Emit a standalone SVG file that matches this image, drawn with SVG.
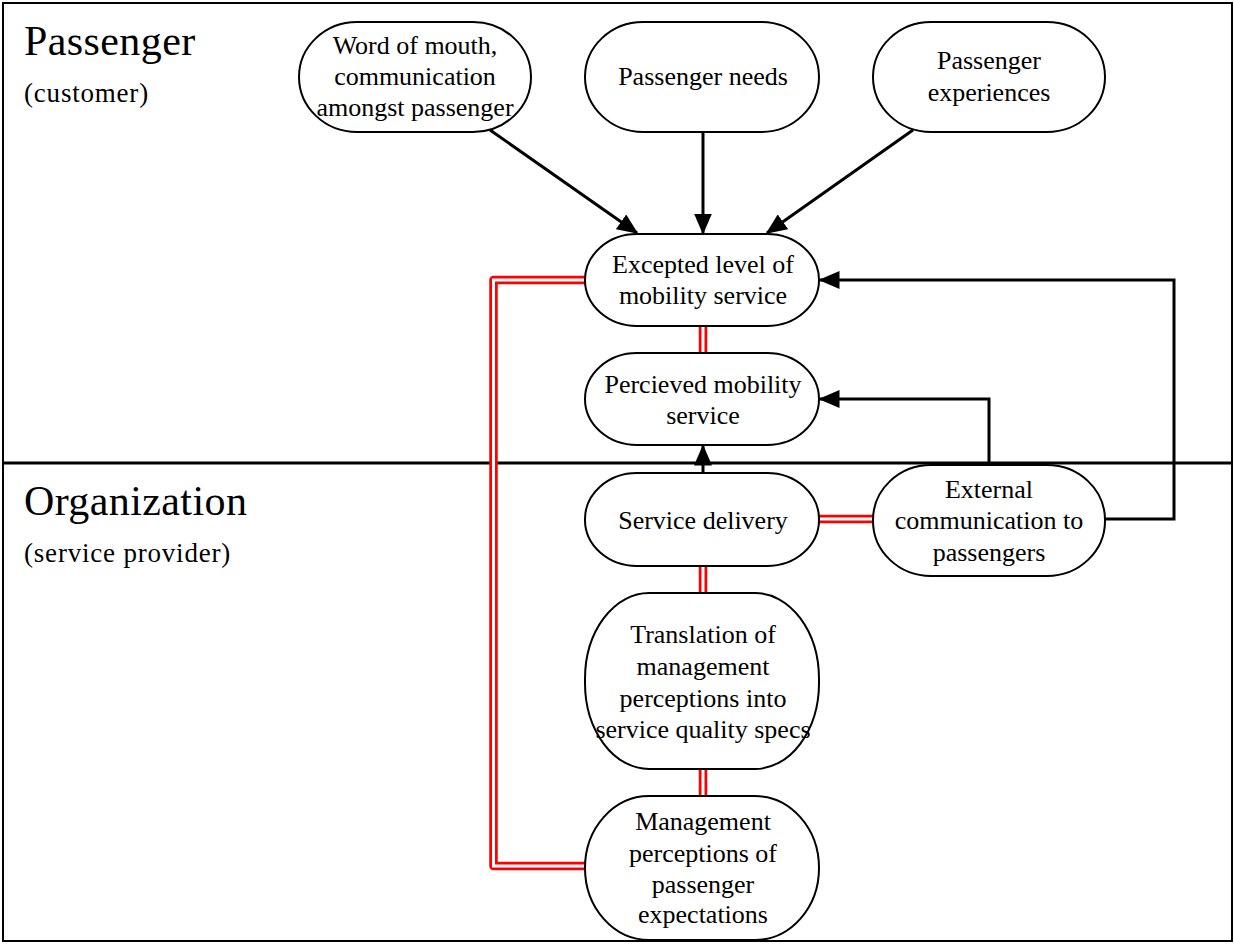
<svg xmlns="http://www.w3.org/2000/svg" width="1234" height="944" viewBox="0 0 1234 944">
  <style>
    .node { fill: #fff; stroke: #000; stroke-width: 2; }
    .t { font-family: "Liberation Serif", "Times New Roman", serif; font-size: 26px; text-anchor: middle; fill: #000; }
    .h { font-family: "Liberation Serif", "Times New Roman", serif; font-size: 42px; letter-spacing: 0.4px; fill: #000; }
    .s { font-family: "Liberation Serif", "Times New Roman", serif; font-size: 27px; letter-spacing: 0.8px; fill: #000; }
    .arrow { fill: none; stroke: #000; stroke-width: 3; marker-end: url(#head); }
    .redOuter { fill: none; stroke: #f00; stroke-width: 8.5; stroke-linejoin: round; stroke-linecap: round; }
    .redInner { fill: none; stroke: #fff; stroke-width: 3; stroke-linejoin: miter; }
  </style>
  <defs>
    <marker id="head" markerWidth="7" markerHeight="6" refX="6.5" refY="3" orient="auto" markerUnits="strokeWidth">
      <path d="M0,0 L7,3 L0,6 Z" fill="#000"/>
    </marker>
  </defs>

  <rect x="0" y="0" width="1234" height="944" fill="#fff"/>
  <!-- frame and lane divider -->
  <rect x="3" y="3" width="1229" height="938" fill="none" stroke="#000" stroke-width="2"/>
  <line x1="3" y1="463" x2="1232" y2="463" stroke="#000" stroke-width="3"/>

  <!-- lane titles -->
  <g id="lane-passenger">
    <text class="h" x="24" y="55">Passenger</text>
    <text class="s" x="24" y="102">(customer)</text>
  </g>
  <g id="lane-organization">
    <text class="h" x="24" y="515">Organization</text>
    <text class="s" x="24" y="562">(service provider)</text>
  </g>

  <!-- connectors -->
  <g id="connectors">
    <line class="arrow" x1="490" y1="130" x2="637" y2="233"/>
    <line class="arrow" x1="703" y1="132" x2="703" y2="233"/>
    <line class="arrow" x1="913" y1="130" x2="767" y2="233"/>
    <polyline class="arrow" points="1105,519 1174,519 1174,280 820,280"/>
    <polyline class="arrow" points="989,463 989,399 820,399"/>
    <line class="arrow" x1="703" y1="473" x2="703" y2="446"/>

    <!-- red double links -->
    <polyline class="redOuter" points="585,280 493.5,280 493.5,866 585,866"/>
    <polyline class="redInner" points="585,280 493.5,280 493.5,866 585,866"/>
    <line class="redOuter" x1="703" y1="326" x2="703" y2="353"/>
    <line class="redInner" x1="703" y1="326" x2="703" y2="353"/>
    <line class="redOuter" x1="819" y1="519" x2="873" y2="519"/>
    <line class="redInner" x1="819" y1="519" x2="873" y2="519"/>
    <line class="redOuter" x1="703" y1="566" x2="703" y2="593"/>
    <line class="redInner" x1="703" y1="566" x2="703" y2="593"/>
    <line class="redOuter" x1="703" y1="769" x2="703" y2="796"/>
    <line class="redInner" x1="703" y1="769" x2="703" y2="796"/>
  </g>

  <!-- nodes -->
  <g id="word-of-mouth">
    <rect class="node" x="299" y="22" width="232" height="110" rx="58" ry="55"/>
    <text class="t" x="415" y="54">Word of mouth,</text>
    <text class="t" x="415" y="85">communication</text>
    <text class="t" x="415" y="116">amongst passenger</text>
  </g>
  <g id="passenger-needs">
    <rect class="node" x="585" y="22" width="234" height="110" rx="58" ry="55"/>
    <text class="t" x="703" y="85">Passenger needs</text>
  </g>
  <g id="passenger-experiences">
    <rect class="node" x="873" y="22" width="232" height="110" rx="58" ry="55"/>
    <text class="t" x="989" y="69">Passenger</text>
    <text class="t" x="989" y="101">experiences</text>
  </g>
  <g id="expected-level">
    <rect class="node" x="585" y="234" width="234" height="92" rx="52" ry="46"/>
    <text class="t" x="703" y="273">Excepted level of</text>
    <text class="t" x="703" y="304">mobility service</text>
  </g>
  <g id="perceived-service">
    <rect class="node" x="585" y="353" width="234" height="92" rx="52" ry="46"/>
    <text class="t" x="703" y="393">Percieved mobility</text>
    <text class="t" x="703" y="424">service</text>
  </g>
  <g id="service-delivery">
    <rect class="node" x="585" y="473" width="234" height="93" rx="52" ry="46"/>
    <text class="t" x="703" y="529">Service delivery</text>
  </g>
  <g id="external-communication">
    <rect class="node" x="873" y="465" width="232" height="111" rx="58" ry="55"/>
    <text class="t" x="989" y="498">External</text>
    <text class="t" x="989" y="529">communication to</text>
    <text class="t" x="989" y="561">passengers</text>
  </g>
  <g id="translation">
    <rect class="node" x="585" y="593" width="234" height="176" rx="64" ry="86"/>
    <text class="t" x="703" y="643">Translation of</text>
    <text class="t" x="703" y="675">management</text>
    <text class="t" x="703" y="707">perceptions into</text>
    <text class="t" x="703" y="738">service quality specs</text>
  </g>
  <g id="management-perceptions">
    <rect class="node" x="585" y="796" width="234" height="144" rx="64" ry="72"/>
    <text class="t" x="703" y="830">Management</text>
    <text class="t" x="703" y="862">perceptions of</text>
    <text class="t" x="703" y="893">passenger</text>
    <text class="t" x="703" y="923">expectations</text>
  </g>
</svg>
